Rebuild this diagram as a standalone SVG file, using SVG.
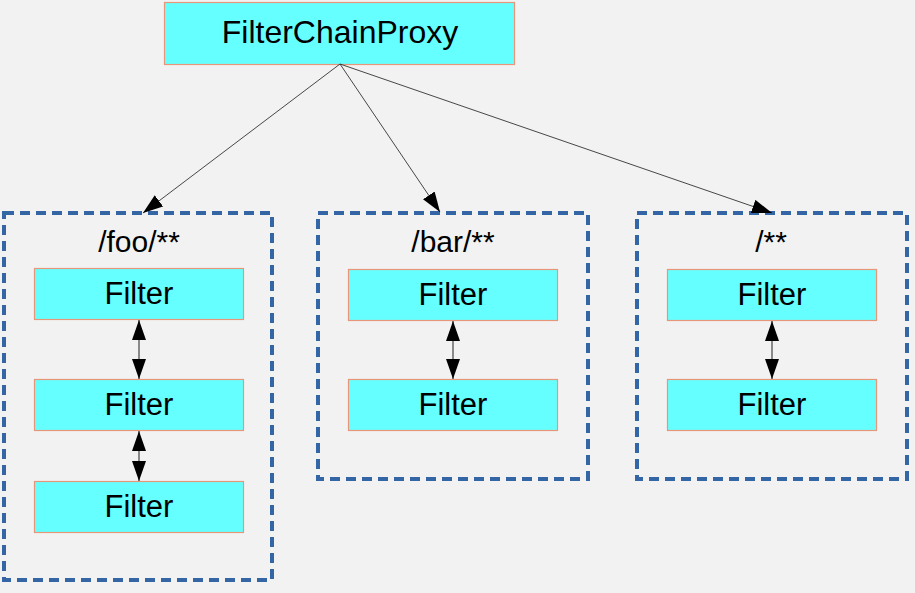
<svg xmlns="http://www.w3.org/2000/svg" width="915" height="593" viewBox="0 0 915 593">
<style>
.box{fill:#66ffff;stroke:#e8967a;stroke-width:1.2}
.grp{fill:none;stroke:#3465a4;stroke-width:4;stroke-dasharray:10 6}
.t{font-family:"Liberation Sans",Arial,sans-serif;fill:#000;text-anchor:middle}
.f{font-size:31px}
.l{font-size:30px}
.conn{stroke:#333;stroke-width:0.9;fill:none}
.dbl{stroke:#444;stroke-width:1.2;fill:none}
</style>
<defs>
<marker id="ah" markerUnits="userSpaceOnUse" markerWidth="22" markerHeight="16" refX="20" refY="7" orient="auto">
<path d="M0,0 L20,7 L0,14 z" fill="#000"/>
</marker>
<marker id="ah2" markerUnits="userSpaceOnUse" markerWidth="22" markerHeight="16" refX="20" refY="7" orient="auto-start-reverse">
<path d="M0,0 L20,7 L0,14 z" fill="#000"/>
</marker>
</defs>
<rect width="915" height="593" fill="#f2f2f2"/>
<g id="proxy">
<rect class="box" x="164.5" y="2.5" width="350" height="62"/>
<text class="t" x="340" y="43" font-size="32">FilterChainProxy</text>
</g>
<g id="chain-foo">
<rect class="grp" x="4" y="213" width="268" height="367"/>
<text class="t l" x="139" y="252">/foo/**</text>
</g>
<g id="chain-bar">
<rect class="grp" x="318" y="213" width="270" height="266"/>
<text class="t l" x="453" y="252">/bar/**</text>
</g>
<g id="chain-all">
<rect class="grp" x="637" y="213" width="270" height="266"/>
<text class="t l" x="771" y="252">/**</text>
</g>
<g id="foo-f1"><rect class="box" x="34.5" y="268.5" width="209" height="51"/><text class="t f" x="139" y="304">Filter</text></g>
<g id="foo-f2"><rect class="box" x="34.5" y="379.5" width="209" height="51"/><text class="t f" x="139" y="415">Filter</text></g>
<g id="foo-f3"><rect class="box" x="34.5" y="481.5" width="209" height="51"/><text class="t f" x="139" y="517">Filter</text></g>
<g id="bar-f1"><rect class="box" x="348.5" y="269.5" width="209" height="51"/><text class="t f" x="453" y="305">Filter</text></g>
<g id="bar-f2"><rect class="box" x="348.5" y="379.5" width="209" height="51"/><text class="t f" x="453" y="415">Filter</text></g>
<g id="all-f1"><rect class="box" x="667.5" y="269.5" width="209" height="51"/><text class="t f" x="772" y="305">Filter</text></g>
<g id="all-f2"><rect class="box" x="667.5" y="379.5" width="209" height="51"/><text class="t f" x="772" y="415">Filter</text></g>
<g id="connectors">
<line class="conn" x1="340" y1="64" x2="143" y2="213" marker-end="url(#ah)"/>
<line class="conn" x1="340" y1="64" x2="440" y2="212" marker-end="url(#ah)"/>
<line class="conn" x1="340" y1="64" x2="772" y2="213" marker-end="url(#ah)"/>
<line class="dbl" x1="139" y1="320" x2="139" y2="379" marker-start="url(#ah2)" marker-end="url(#ah2)"/>
<line class="dbl" x1="139" y1="431" x2="139" y2="481" marker-start="url(#ah2)" marker-end="url(#ah2)"/>
<line class="dbl" x1="453" y1="321" x2="453" y2="379" marker-start="url(#ah2)" marker-end="url(#ah2)"/>
<line class="dbl" x1="772" y1="321" x2="772" y2="379" marker-start="url(#ah2)" marker-end="url(#ah2)"/>
</g>
</svg>
